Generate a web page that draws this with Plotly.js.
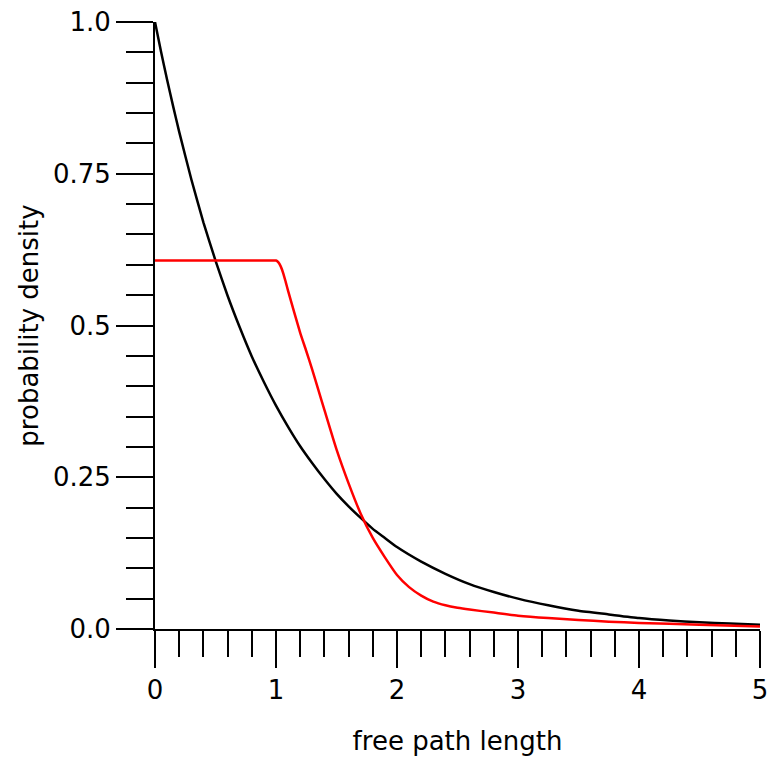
<!DOCTYPE html>
<html>
<head>
<meta charset="utf-8">
<script src="https://cdn.plot.ly/plotly-3.0.1.min.js"></script>
<style>html,body{margin:0;padding:0;background:#fff;}#chart{width:772px;height:757px;}</style>
</head>
<body>
<div id="chart"></div>
<script>
// free path length values and densities
const blackX = [0, 0.05, 0.1, 0.15, 0.2, 0.3, 0.4, 0.5, 0.6, 0.7, 0.8, 0.9, 1.0, 1.1, 1.2, 1.3, 1.4, 1.5, 1.6, 1.7, 1.8, 1.9, 2.0, 2.2, 2.4, 2.6, 2.8, 3.0, 3.25, 3.5, 3.75, 4.0, 4.25, 4.5, 4.75, 5.0];
const blackY = [1.0, 0.951, 0.905, 0.861, 0.819, 0.741, 0.670, 0.607, 0.549, 0.497, 0.449, 0.407, 0.368, 0.333, 0.301, 0.273, 0.247, 0.223, 0.202, 0.183, 0.165, 0.150, 0.135, 0.111, 0.091, 0.074, 0.061, 0.050, 0.039, 0.030, 0.024, 0.018, 0.014, 0.011, 0.009, 0.007];
const redX = [0, 0.25, 0.5, 0.75, 0.9, 0.95, 1.0, 1.02, 1.04, 1.06, 1.08, 1.1, 1.15, 1.2, 1.25, 1.3, 1.35, 1.4, 1.5, 1.6, 1.7, 1.8, 1.9, 2.0, 2.1, 2.2, 2.3, 2.4, 2.5, 2.6, 2.8, 3.0, 3.25, 3.5, 3.75, 4.0, 4.5, 5.0];
const redY = [0.607, 0.607, 0.607, 0.607, 0.607, 0.607, 0.607, 0.604, 0.597, 0.586, 0.572, 0.557, 0.522, 0.488, 0.458, 0.427, 0.394, 0.361, 0.296, 0.240, 0.190, 0.150, 0.118, 0.089, 0.069, 0.055, 0.045, 0.039, 0.035, 0.032, 0.027, 0.022, 0.018, 0.015, 0.012, 0.010, 0.007, 0.004];
const xTickVals = [0, 1, 2, 3, 4, 5];
const xTickText = ["0", "1", "2", "3", "4", "5"];
const yTickVals = [0, 0.25, 0.5, 0.75, 1.0];
const yTickText = ["0.0", "0.25", "0.5", "0.75", "1.0"];

const FONT = "DejaVu Sans, sans-serif";
const FS = 26;
const traces = [
  {x: blackX, y: blackY, type: "scatter", mode: "lines", line: {color: "#000", width: 2.5, shape: "spline", smoothing: 0.5}, hoverinfo: "skip"},
  {x: redX, y: redY, type: "scatter", mode: "lines", line: {color: "#ff0000", width: 2.5, shape: "spline", smoothing: 0.5}, hoverinfo: "skip"}
];
const layout = {
  width: 772, height: 757,
  margin: {l: 155, r: 12, t: 22, b: 128},
  paper_bgcolor: "#fff", plot_bgcolor: "#fff",
  showlegend: false,
  font: {family: FONT, size: FS, color: "#000"},
  xaxis: {
    range: [0, 5], showgrid: false, zeroline: false,
    showline: true, linecolor: "#000", linewidth: 2,
    ticks: "outside", ticklen: 37, tickwidth: 2, tickcolor: "#000",
    tickvals: xTickVals, ticktext: xTickText,
    minor: {dtick: 0.2, tick0: 0, ticks: "outside", ticklen: 26, tickwidth: 2, tickcolor: "#000", showgrid: false},
    tickfont: {family: FONT, size: FS, color: "#000"},
    title: {text: "free path length", font: {family: FONT, size: FS, color: "#000"}, standoff: 28}
  },
  yaxis: {
    range: [0, 1], showgrid: false, zeroline: false,
    showline: true, linecolor: "#000", linewidth: 2,
    ticks: "outside", ticklen: 37, tickwidth: 2, tickcolor: "#000",
    tickvals: yTickVals, ticktext: yTickText,
    minor: {dtick: 0.05, tick0: 0, ticks: "outside", ticklen: 27, tickwidth: 2, tickcolor: "#000", showgrid: false},
    tickfont: {family: FONT, size: FS, color: "#000"},
    title: {text: "probability density", font: {family: FONT, size: FS, color: "#000"}, standoff: 7}
  }
};
Plotly.newPlot("chart", traces, layout, {displayModeBar: false, staticPlot: true});
</script>
</body>
</html>
